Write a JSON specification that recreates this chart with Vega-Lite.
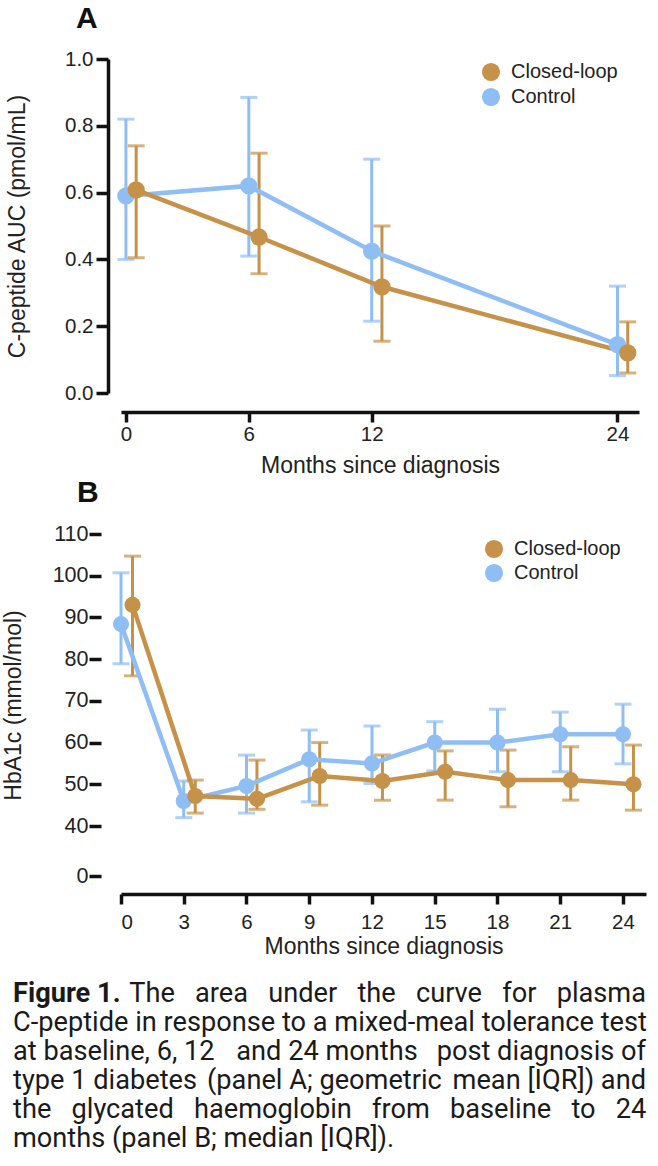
{
  "$schema": "https://vega.github.io/schema/vega-lite/v6.json",
  "background": "white",
  "padding": {"left": 2, "top": 4, "right": 0, "bottom": 0},
  "config": {
    "font": "Liberation Sans",
    "view": {"stroke": null},
    "axis": {
      "grid": false,
      "domainColor": "#111111",
      "domainWidth": 3.5,
      "tickColor": "#111111",
      "tickWidth": 3.5,
      "tickSize": 10,
      "labelFont": "Liberation Sans",
      "labelFontSize": 20.5,
      "labelColor": "#222222",
      "labelPadding": 2,
      "titleFont": "Liberation Sans",
      "titleFontSize": 23,
      "titleFontWeight": "normal",
      "titleColor": "#222222"
    },
    "title": {"fontSize": 30, "fontWeight": "bold", "anchor": "start", "frame": "group", "color": "#111111", "font": "Liberation Sans"}
  },
  "datasets": {
    "cpep": [
      {"group": "Control", "month": 0, "t": 0, "mean": 0.59, "lo": 0.40, "hi": 0.82},
      {"group": "Control", "month": 6, "t": 6, "mean": 0.62, "lo": 0.41, "hi": 0.885},
      {"group": "Control", "month": 12, "t": 12, "mean": 0.425, "lo": 0.215, "hi": 0.70},
      {"group": "Control", "month": 24, "t": 24, "mean": 0.145, "lo": 0.052, "hi": 0.32},
      {"group": "Closed-loop", "month": 0, "t": 0.5, "mean": 0.608, "lo": 0.405, "hi": 0.74},
      {"group": "Closed-loop", "month": 6, "t": 6.5, "mean": 0.467, "lo": 0.357, "hi": 0.718},
      {"group": "Closed-loop", "month": 12, "t": 12.5, "mean": 0.318, "lo": 0.155, "hi": 0.50},
      {"group": "Closed-loop", "month": 24, "t": 24.5, "mean": 0.12, "lo": 0.06, "hi": 0.213}
    ],
    "hba1c": [
      {"group": "Control", "month": 0, "t": 0, "median": 88.4, "lo": 78.9, "hi": 100.7},
      {"group": "Control", "month": 3, "t": 3, "median": 46, "lo": 42, "hi": 50.8},
      {"group": "Control", "month": 6, "t": 6, "median": 49.6, "lo": 43.1, "hi": 57},
      {"group": "Control", "month": 9, "t": 9, "median": 56, "lo": 45.8, "hi": 63},
      {"group": "Control", "month": 12, "t": 12, "median": 55, "lo": 50.2, "hi": 64},
      {"group": "Control", "month": 15, "t": 15, "median": 60, "lo": 53.2, "hi": 65},
      {"group": "Control", "month": 18, "t": 18, "median": 60, "lo": 53, "hi": 68},
      {"group": "Control", "month": 21, "t": 21, "median": 62, "lo": 53, "hi": 67.3},
      {"group": "Control", "month": 24, "t": 24, "median": 62, "lo": 54.9, "hi": 69.2},
      {"group": "Closed-loop", "month": 0, "t": 0.55, "median": 93, "lo": 76, "hi": 104.7},
      {"group": "Closed-loop", "month": 3, "t": 3.55, "median": 47.2, "lo": 43.1, "hi": 51},
      {"group": "Closed-loop", "month": 6, "t": 6.5, "median": 46.5, "lo": 44, "hi": 55.8},
      {"group": "Closed-loop", "month": 9, "t": 9.5, "median": 52, "lo": 45, "hi": 60},
      {"group": "Closed-loop", "month": 12, "t": 12.5, "median": 50.8, "lo": 46.2, "hi": 57},
      {"group": "Closed-loop", "month": 15, "t": 15.5, "median": 53, "lo": 46.2, "hi": 58},
      {"group": "Closed-loop", "month": 18, "t": 18.5, "median": 51, "lo": 44.6, "hi": 58.2},
      {"group": "Closed-loop", "month": 21, "t": 21.5, "median": 51, "lo": 46.2, "hi": 59},
      {"group": "Closed-loop", "month": 24, "t": 24.5, "median": 50, "lo": 43.8, "hi": 59.4}
    ],
    "caption": [
      {"line": 1, "part": "bold", "text": "Figure 1."},
      {"line": 1, "part": "right", "text": "The\u00a0\u00a0\u00a0area\u00a0\u00a0\u00a0under\u00a0\u00a0\u00a0the\u00a0\u00a0\u00a0curve\u00a0\u00a0\u00a0for\u00a0\u00a0\u00a0plasma"},
      {"line": 2, "part": "left", "text": "C-peptide in response to a mixed-meal tolerance test"},
      {"line": 3, "part": "left", "text": "at baseline, 6, 12"},
      {"line": 3, "part": "m3", "text": "and 24 months"},
      {"line": 3, "part": "right", "text": "post diagnosis of"},
      {"line": 4, "part": "left", "text": "type 1 diabetes"},
      {"line": 4, "part": "m4", "text": "(panel A; geometric"},
      {"line": 4, "part": "right", "text": "mean [IQR]) and"},
      {"line": 5, "part": "left", "text": "the\u00a0\u00a0\u00a0glycated\u00a0\u00a0\u00a0haemoglobin\u00a0\u00a0\u00a0from\u00a0\u00a0\u00a0baseline\u00a0\u00a0\u00a0to\u00a0\u00a0\u00a024"},
      {"line": 6, "part": "left", "text": "months (panel B; median [IQR])."}
    ]
  },
  "spacing": 0,
  "resolve": {"scale": {"fill": "independent"}, "legend": {"fill": "independent"}},
  "vconcat": [
    {
      "width": 518,
      "height": 334,
      "title": {"text": "A", "dx": -45, "offset": 15},
      "data": {"name": "cpep"},
      "encoding": {
        "x": {"field": "t", "type": "quantitative", "scale": {"domain": [-0.24, 25.05], "nice": false, "zero": false},
          "axis": {"values": [0, 6, 12, 24], "title": "Months since diagnosis", "offset": 19, "titlePadding": 10}}
      },
      "layer": [
        {
          "mark": {"type": "rule", "strokeWidth": 3},
          "encoding": {
            "y": {"field": "lo", "type": "quantitative", "title": "C-peptide AUC (pmol/mL)", "scale": {"domain": [0, 1], "nice": false},
              "axis": {"values": [0, 0.2, 0.4, 0.6, 0.8, 1.0], "format": ".1f", "offset": 13, "tickSize": 12, "labelPadding": 3, "titlePadding": 35}},
            "y2": {"field": "hi"},
            "stroke": {"condition": {"test": "datum.group === 'Control'", "value": "#8FBEF5"}, "value": "#C69148"}
          }
        },
        {
          "mark": {"type": "tick", "orient": "horizontal", "size": 17, "thickness": 3},
          "encoding": {
            "y": {"field": "hi", "type": "quantitative", "title": "C-peptide AUC (pmol/mL)"},
            "color": {"condition": {"test": "datum.group === 'Control'", "value": "#8FBEF5"}, "value": "#C69148"}
          }
        },
        {
          "mark": {"type": "tick", "orient": "horizontal", "size": 17, "thickness": 3},
          "encoding": {
            "y": {"field": "lo", "type": "quantitative", "title": "C-peptide AUC (pmol/mL)"},
            "color": {"condition": {"test": "datum.group === 'Control'", "value": "#8FBEF5"}, "value": "#C69148"}
          }
        },
        {
          "transform": [{"filter": "datum.group === 'Control'"}],
          "mark": {"type": "line", "strokeWidth": 4.5, "color": "#8FBEF5"},
          "encoding": {
            "y": {"field": "mean", "type": "quantitative", "title": "C-peptide AUC (pmol/mL)"}
          }
        },
        {
          "transform": [{"filter": "datum.group === 'Closed-loop'"}],
          "mark": {"type": "line", "strokeWidth": 4.5, "color": "#C69148"},
          "encoding": {
            "y": {"field": "mean", "type": "quantitative", "title": "C-peptide AUC (pmol/mL)"}
          }
        },
        {
          "mark": {"type": "circle", "size": 300, "opacity": 1, "strokeWidth": 0},
          "encoding": {
            "y": {"field": "mean", "type": "quantitative", "title": "C-peptide AUC (pmol/mL)"},
            "fill": {"field": "group", "type": "nominal", "scale": {"domain": ["Closed-loop", "Control"], "range": ["#C69148", "#8FBEF5"]},
              "legend": {"orient": "none", "legendX": 360, "legendY": 3, "title": null, "labelFont": "Liberation Sans", "labelFontSize": 20, "labelColor": "#222222", "symbolType": "circle", "symbolSize": 330, "symbolStrokeWidth": 0, "labelOffset": 10, "rowPadding": 5, "padding": 0}}
          }
        }
      ]
    },
    {
      "width": 525,
      "height": 342,
      "title": {"text": "B", "dx": -44, "offset": 15},
      "data": {"name": "hba1c"},
      "encoding": {
        "x": {"field": "t", "type": "quantitative", "scale": {"domain": [0, 25.1], "nice": false, "zero": false},
          "axis": {"values": [0, 3, 6, 9, 12, 15, 18, 21, 24], "title": "Months since diagnosis", "offset": 18, "labelPadding": 8, "titlePadding": 3}}
      },
      "layer": [
        {
          "data": {"values": [{}]},
          "mark": {"type": "rule", "strokeWidth": 3.5, "color": "#111111"},
          "encoding": {"x": {"datum": -0.95}, "y": {"datum": 110}, "y2": {"datum": 26.5}}
        },
        {
          "data": {"values": [{}]},
          "mark": {"type": "rule", "strokeWidth": 3.5, "color": "#111111"},
          "encoding": {"x": {"datum": -1.15}, "y": {"datum": 27}, "x2": {"datum": -0.65}, "y2": {"datum": 20}}
        },
        {
          "data": {"values": [{}]},
          "mark": {"type": "rule", "strokeWidth": 3.5, "color": "#111111"},
          "encoding": {"x": {"datum": -1.15}, "y": {"datum": 17.5}, "x2": {"datum": -0.65}, "y2": {"datum": 10.5}}
        },
        {
          "data": {"values": [{}]},
          "mark": {"type": "rule", "strokeWidth": 3.5, "color": "#111111"},
          "encoding": {"x": {"datum": -0.95}, "y": {"datum": 11}, "y2": {"datum": 0}}
        },
        {
          "mark": {"type": "rule", "strokeWidth": 3},
          "encoding": {
            "y": {"field": "lo", "type": "quantitative", "title": "HbA1c (mmol/mol)",
              "scale": {"domain": [0, 40, 110], "range": [342, 292, 0], "nice": false, "zero": false},
              "axis": {"values": [0, 40, 50, 60, 70, 80, 90, 100, 110], "domain": false, "offset": 20, "tickSize": 12, "labelPadding": 1, "labelFontSize": 21.5, "titlePadding": 27}},
            "y2": {"field": "hi"},
            "stroke": {"condition": {"test": "datum.group === 'Control'", "value": "#8FBEF5"}, "value": "#C69148"}
          }
        },
        {
          "mark": {"type": "tick", "orient": "horizontal", "size": 17, "thickness": 3},
          "encoding": {
            "y": {"field": "hi", "type": "quantitative", "title": "HbA1c (mmol/mol)"},
            "color": {"condition": {"test": "datum.group === 'Control'", "value": "#8FBEF5"}, "value": "#C69148"}
          }
        },
        {
          "mark": {"type": "tick", "orient": "horizontal", "size": 17, "thickness": 3},
          "encoding": {
            "y": {"field": "lo", "type": "quantitative", "title": "HbA1c (mmol/mol)"},
            "color": {"condition": {"test": "datum.group === 'Control'", "value": "#8FBEF5"}, "value": "#C69148"}
          }
        },
        {
          "transform": [{"filter": "datum.group === 'Control'"}],
          "mark": {"type": "line", "strokeWidth": 4.5, "color": "#8FBEF5"},
          "encoding": {
            "y": {"field": "median", "type": "quantitative", "title": "HbA1c (mmol/mol)"}
          }
        },
        {
          "transform": [{"filter": "datum.group === 'Closed-loop'"}],
          "mark": {"type": "line", "strokeWidth": 4.5, "color": "#C69148"},
          "encoding": {
            "y": {"field": "median", "type": "quantitative", "title": "HbA1c (mmol/mol)"}
          }
        },
        {
          "mark": {"type": "circle", "size": 260, "opacity": 1, "strokeWidth": 0},
          "encoding": {
            "y": {"field": "median", "type": "quantitative", "title": "HbA1c (mmol/mol)"},
            "fill": {"field": "group", "type": "nominal", "scale": {"domain": ["Closed-loop", "Control"], "range": ["#C69148", "#8FBEF5"]},
              "legend": {"orient": "none", "legendX": 363, "legendY": 5, "title": null, "labelFont": "Liberation Sans", "labelFontSize": 20, "labelColor": "#222222", "symbolType": "circle", "symbolSize": 330, "symbolStrokeWidth": 0, "labelOffset": 10, "rowPadding": 4, "padding": 0}}
          }
        }
      ]
    },
    {
      "width": 525,
      "height": 194,
      "data": {"name": "caption"},
      "encoding": {
        "y": {"field": "line", "type": "quantitative", "scale": {"domain": [-0.2, 6.5], "reverse": true, "nice": false, "zero": false}, "axis": null}
      },
      "layer": [
        {
          "transform": [{"filter": "datum.part === 'bold'"}],
          "mark": {"type": "text", "align": "left", "baseline": "middle", "font": "Roboto", "fontSize": 27.2, "fontWeight": "bold", "color": "#1a1a1a"},
          "encoding": {"x": {"datum": 0, "type": "quantitative", "scale": {"domain": [0.1706, 1], "nice": false, "zero": false}, "axis": null}, "text": {"field": "text"}}
        },
        {
          "transform": [{"filter": "datum.part === 'left'"}],
          "mark": {"type": "text", "align": "left", "baseline": "middle", "font": "Roboto", "fontSize": 27.2, "color": "#1a1a1a"},
          "encoding": {"x": {"datum": 0, "type": "quantitative"}, "text": {"field": "text"}}
        },
        {
          "transform": [{"filter": "datum.part === 'm3'"}],
          "mark": {"type": "text", "align": "center", "baseline": "middle", "font": "Roboto", "fontSize": 27.2, "color": "#1a1a1a"},
          "encoding": {"x": {"datum": 0.496, "type": "quantitative"}, "text": {"field": "text"}}
        },
        {
          "transform": [{"filter": "datum.part === 'm4'"}],
          "mark": {"type": "text", "align": "center", "baseline": "middle", "font": "Roboto", "fontSize": 27.2, "color": "#1a1a1a"},
          "encoding": {"x": {"datum": 0.492, "type": "quantitative"}, "text": {"field": "text"}}
        },
        {
          "transform": [{"filter": "datum.part === 'right'"}],
          "mark": {"type": "text", "align": "right", "baseline": "middle", "font": "Roboto", "fontSize": 27.2, "color": "#1a1a1a"},
          "encoding": {"x": {"datum": 1, "type": "quantitative"}, "text": {"field": "text"}}
        }
      ]
    }
  ]
}
